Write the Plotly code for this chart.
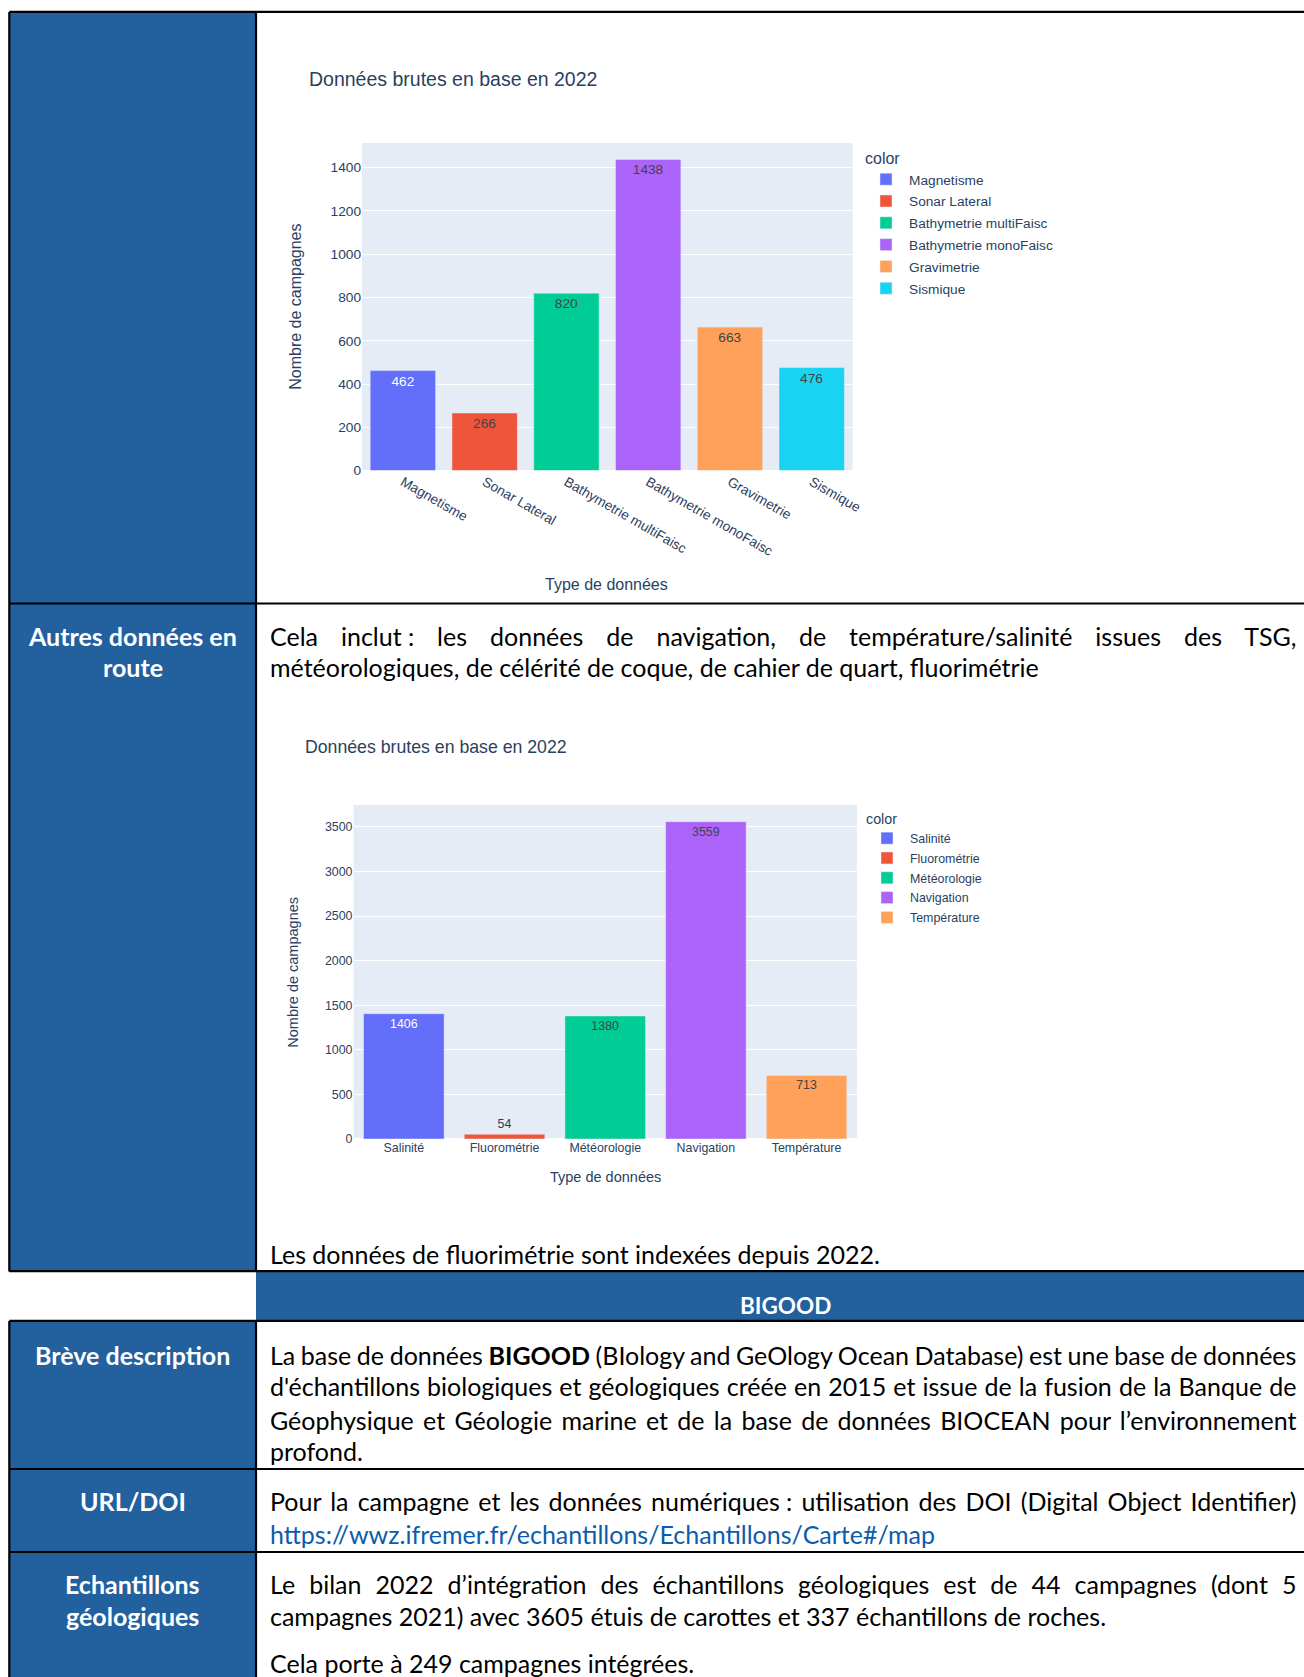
import json
import re
import plotly.graph_objects as go

W, H = 1304, 1677

# ---------------- data ----------------
cats1 = ["Magnetisme", "Sonar Lateral", "Bathymetrie multiFaisc",
         "Bathymetrie monoFaisc", "Gravimetrie", "Sismique"]
vals1 = [462, 266, 820, 1438, 663, 476]

cats2 = ["Salinité", "Fluorométrie", "Météorologie", "Navigation", "Température"]
vals2 = [1406, 54, 1380, 3559, 713]

palette = ["#636EFA", "#EF553B", "#00CC96", "#AB63FA", "#FFA15A", "#19D3F3"]

chart_title = "Données brutes en base en 2022"
x_title = "Type de données"
y_title = "Nombre de campagnes"

BLUE = "#22609E"
LINK = "#0B5CAD"
NNBSP = "\u202f"
TXT = "#2a3f5f"

def px(x):
    return x / W

def py(y):
    return 1 - y / H

fig = go.Figure()

CF = "Liberation Sans, Arial, sans-serif"

for c, v, col in zip(cats1, vals1, palette):
    fig.add_trace(go.Bar(x=[c], y=[v], name=c, marker_color=col, text=[v],
                         textposition="auto", textfont=dict(size=13.7, family=CF),
                         xaxis="x", yaxis="y", legend="legend", legendgroup="a" + c))
for c, v, col in zip(cats2, vals2, palette):
    fig.add_trace(go.Bar(x=[c], y=[v], name=c, marker_color=col, text=[v],
                         textposition="auto", textfont=dict(size=12.4, family=CF),
                         xaxis="x2", yaxis="y2", legend="legend2", legendgroup="b" + c))

shapes = []
def rect(x0, y0, x1, y1, color):
    shapes.append(dict(type="rect", xref="paper", yref="paper", x0=px(x0), x1=px(x1),
                       y0=py(y1), y1=py(y0), fillcolor=color, line=dict(width=0), layer="below"))

def line(x0, y0, x1, y1):
    shapes.append(dict(type="line", xref="paper", yref="paper", x0=px(x0), x1=px(x1),
                       y0=py(y0), y1=py(y1), line=dict(color="black", width=2.2), layer="above"))

# blue cells
rect(9.3, 11.9, 256, 1271.5, BLUE)
rect(256, 1271.5, W, 1321, BLUE)
rect(9.3, 1321, 256, H, BLUE)
# borders
line(9.3, 11.9, W, 11.9)
line(9.3, 11.9, 9.3, 1271.5)
line(9.3, 1321, 9.3, H)
line(256, 11.9, 256, 1271.5)
line(256, 1321, 256, H)
for yy in [603.5, 1271.2, 1320.8, 1469, 1552]:
    line(9.3, yy, W, yy)

annotations = []
DOC = "Lato, Carlito, sans-serif"
FS = 25
PADX = 3   # annotation box padding before the text starts
DY = -2    # small vertical correction for document text

def ann(text, x, y, size=FS, color="black", xanchor="left", family=DOC, align="left",
        angle=0, yanchor="middle"):
    annotations.append(dict(text=text, x=px(x), y=py(y), xref="paper", yref="paper",
                            xanchor=xanchor, yanchor=yanchor, showarrow=False, align=align,
                            textangle=angle,
                            font=dict(family=family, size=size, color=color)))

# chart titles
ann(chart_title, 310.4 - PADX, 79, size=19.5, color=TXT, family=CF)
ann(chart_title, 306 - PADX, 747.4, size=17.7, color=TXT, family=CF)
# axis titles
ann(x_title, 606, 584.5, size=16, color=TXT, family=CF, xanchor="center", align="center")
ann(y_title, 296, 306.8, size=16, color=TXT, family=CF, xanchor="center", align="center", angle=-90)
ann(x_title, 605, 1176.7, size=14.5, color=TXT, family=CF, xanchor="center", align="center")
ann(y_title, 293.4, 972.3, size=14.5, color=TXT, family=CF, xanchor="center", align="center", angle=-90)

# left column labels
LX = 132.6
ann("<b>Autres données en</b>", LX, 638 + DY, color="white", xanchor="center", align="center")
ann("<b>route</b>", LX, 669.4 + DY, color="white", xanchor="center", align="center")
ann("<b>Brève description</b>", LX, 1356.7 + DY, color="white", xanchor="center", align="center")
ann("<b>URL/DOI</b>", LX, 1503.3 + DY, color="white", xanchor="center", align="center")
ann("<b>Echantillons</b>", LX, 1586 + DY, color="white", xanchor="center", align="center")
ann("<b>géologiques</b>", LX, 1618.3 + DY, color="white", xanchor="center", align="center")
ann("<b>BIGOOD</b>", 785, 1305.7, size=22.5, color="white", xanchor="center", align="center")

TX = 270.6
justified = [
    ("Cela inclut" + NNBSP + ": les données de navigation, de température/salinité issues des TSG,", 638),
    ("La base de données <b>BIGOOD</b> (BIology and GeOlogy Ocean Database) est une base de données", 1356.7),
    ("d'échantillons biologiques et géologiques créée en 2015 et issue de la fusion de la Banque de", 1388.3),
    ("Géophysique et Géologie marine et de la base de données BIOCEAN pour l’environnement", 1421.7),
    ("Pour la campagne et les données numériques" + NNBSP + ": utilisation des DOI (Digital Object Identifier)", 1503.3),
    ("Le bilan 2022 d’intégration des échantillons géologiques est de 44 campagnes (dont 5", 1586),
]
plain = [
    ("météorologiques, de célérité de coque, de cahier de quart, fluorimétrie", 669.4),
    ("Les données de fluorimétrie sont indexées depuis 2022.", 1255.7),
    ("profond.", 1453.3),
    ("campagnes 2021) avec 3605 étuis de carottes et 337 échantillons de roches.", 1618.3),
]
for t, y in justified + plain:
    ann(t, TX - PADX, y + DY)
ann("https://wwz.ifremer.fr/echantillons/Echantillons/Carte#/map", TX - PADX, 1536 + DY, color=LINK)
# last line sits at the very bottom of the page
ann("Cela porte à 249 campagnes intégrées.", TX - PADX, 1663)

fig.update_layout(
    template="plotly",
    width=W, height=H, autosize=False,
    margin=dict(l=0, r=0, t=0, b=0, autoexpand=False),
    paper_bgcolor="white",
    plot_bgcolor="#E5ECF6",
    barmode="relative",
    font=dict(family=CF, color=TXT),
    shapes=shapes,
    annotations=annotations,
    xaxis=dict(domain=[px(362), px(852.6)], anchor="y", tickangle=30, automargin=False,
               tickfont=dict(size=13.7)),
    yaxis=dict(domain=[py(470.6), py(143)], anchor="x", dtick=200, automargin=False,
               tickfont=dict(size=13.7)),
    xaxis2=dict(domain=[px(353.5), px(856.9)], anchor="y2", tickangle=0, automargin=False,
                tickfont=dict(size=12.4)),
    yaxis2=dict(domain=[py(1139), py(805)], anchor="x2", dtick=500, automargin=False,
                tickfont=dict(size=12.4)),
    legend=dict(x=px(863), y=py(143), xanchor="left", yanchor="top", itemwidth=36,
                tracegroupgap=1,
                title=dict(text="color", font=dict(size=16)), font=dict(size=13.7),
                bgcolor="rgba(0,0,0,0)"),
    legend2=dict(x=px(864), y=py(805), xanchor="left", yanchor="top", itemwidth=36,
                 tracegroupgap=0.7,
                 title=dict(text="color", font=dict(size=14.3)), font=dict(size=12.4),
                 bgcolor="rgba(0,0,0,0)"),
)

jl = [re.sub(r"<[^>]+>", "", t) for t, _ in justified]
JWIDTH = 1297.0 - TX

post = """
var gd = document.getElementById('{plot_id}');
var JL = %s;
var JW = %f;
function justify(){
  var els = gd.querySelectorAll('.annotation-text');
  for (var i = 0; i < els.length; i++) {
    var el = els[i];
    var t = el.textContent;
    if (JL.indexOf(t) < 0) continue;
    el.style.wordSpacing = '0px';
    var L = el.getComputedTextLength();
    var n = t.split(' ').length - 1;
    if (n > 0) el.style.wordSpacing = ((JW - L) / n) + 'px';
  }
}
justify();
if (document.fonts && document.fonts.ready) { document.fonts.ready.then(justify); }
gd.on('plotly_afterplot', justify);
""" % (json.dumps(jl), JWIDTH)

fig.write_html("out.html", post_script=post)
